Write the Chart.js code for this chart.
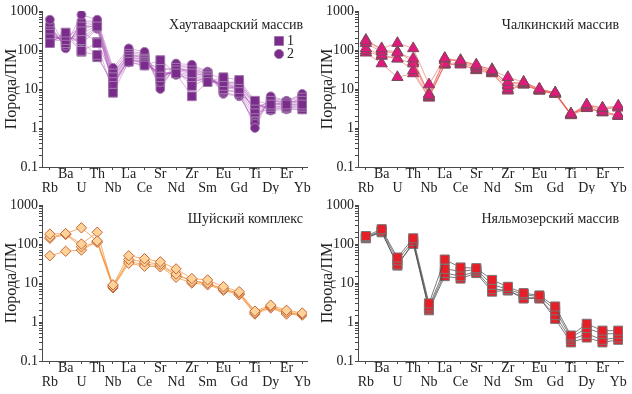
<!DOCTYPE html>
<html><head><meta charset="utf-8">
<script src="https://cdn.jsdelivr.net/npm/chart.js@4.4.1/dist/chart.umd.min.js"></script>
<style>
html,body{margin:0;padding:0;background:#fff;}
#wrap{position:relative;width:632px;height:394px;overflow:hidden;}
canvas{position:absolute;}
</style></head><body>
<div id="wrap">
<canvas id="c1" width="316" height="194" style="left:0;top:0"></canvas>
<canvas id="c2" width="316" height="194" style="left:316px;top:0"></canvas>
<canvas id="c3" width="316" height="200" style="left:0;top:194px"></canvas>
<canvas id="c4" width="316" height="200" style="left:316px;top:194px"></canvas>
</div>
<script>
// ---- categories and tick labels ----
const elements = ['Rb','Ba','U','Th','Nb','La','Ce','Sr','Nd','Zr','Sm','Eu','Gd','Ti','Dy','Er','Yb'];
const yTickValues = [0.1, 1, 10, 100, 1000];
const yTickLabels = ['0.1', '1', '10', '100', '1000'];
const yTitle = 'Порода/ПМ';
const panelTitles = ['Хаутаваарский массив', 'Чалкинский массив', 'Шуйский комплекс', 'Няльмозерский массив'];
const legendLabels = ['1', '2'];

// ---- Хаутаваарский массив: type 1 (squares) ----
const khauType1 = [
  [150, 280, 95, 150, 8, 50, 40, 55, 25, 6.5, 15, 20, 17, 5, 4, 4, 4],
  [200, 230, 90, 75, 12, 60, 45, 35, 30, 12, 18, 15, 14, 4, 3.5, 3.5, 3.5],
  [170, 180, 180, 65, 15, 55, 50, 25, 28, 15, 20, 12, 10, 3, 5, 4.5, 5],
  [260, 150, 300, 160, 20, 70, 55, 30, 35, 25, 22, 10, 12, 2.5, 3, 3.2, 3],
  [300, 200, 400, 400, 25, 80, 60, 20, 33, 30, 25, 18, 8, 3.5, 4.5, 4, 6]
];
// ---- Хаутаваарский массив: type 2 (circles) ----
const khauType2 = [
  [600, 130, 800, 600, 35, 110, 90, 15, 45, 42, 28, 9, 9, 1.0, 6.5, 5, 7.5],
  [450, 110, 550, 550, 30, 95, 80, 10, 40, 38, 26, 8, 7, 1.3, 6, 4.8, 7],
  [380, 120, 480, 500, 25, 85, 75, 12, 38, 35, 24, 7.5, 6.5, 1.5, 5.5, 4.5, 6.5],
  [330, 140, 400, 480, 22, 75, 70, 14, 35, 30, 22, 9.5, 8, 1.8, 5, 4.2, 5.5],
  [280, 160, 330, 450, 18, 70, 65, 18, 32, 28, 20, 11, 9.5, 2.2, 4.5, 4, 5],
  [240, 180, 260, 420, 16, 65, 55, 20, 30, 25, 18, 12, 11, 2.8, 4, 3.8, 4.5],
  [200, 200, 200, 400, 14, 60, 50, 22, 28, 22, 17, 13, 12, 3.5, 3.5, 3.5, 4],
  [170, 220, 170, 370, 13, 55, 45, 25, 26, 20, 16, 14, 13, 4, 3.2, 3.3, 3.5],
  [160, 250, 140, 350, 12, 48, 40, 28, 23, 18, 15, 15, 15, 4.5, 2.8, 3, 3]
];
// ---- Чалкинский массив (triangles) ----
const chalka = [
  [170, 110, 150, 110, 13, 62, 52, 42, 30, 20, 15, 10, 8, 2.3, 4, 3.3, 3.7],
  [150, 90, 85, 60, 7, 60, 50, 38, 28, 15, 14, 9.5, 7.8, 2.2, 3.8, 3.2, 3.3],
  [110, 75, 60, 45, 6.5, 45, 47, 35, 27, 12, 13, 9, 7.5, 2.3, 3.3, 2.6, 2.2],
  [95, 70, 60, 30, 6, 42, 42, 32, 26, 10, 13, 9, 7.5, 2.1, 3.2, 2.5, 2.0],
  [85, 45, 20, 25, 6, 42, 44, 30, 25, 9, 13, 9.5, 7.5, 2.2, 3.3, 2.5, 2.1],
  [180, 100, 90, 50, 7.5, 55, 55, 40, 32, 13, 15, 10, 8, 2.3, 3.5, 3, 3.5]
];
// ---- Шуйский комплекс (diamonds) ----
const shuya = [
  [180, 185, 260, 120, 9, 50, 42, 35, 23, 13, 12, 8, 6, 1.9, 2.7, 2.0, 1.7],
  [150, 180, 100, 200, 8, 40, 35, 30, 17, 11, 10, 7, 5.5, 1.7, 2.5, 1.8, 1.6],
  [140, 175, 85, 110, 7.5, 32, 27, 26, 14, 10, 9, 6.5, 5, 1.6, 2.3, 1.6, 1.5],
  [50, 65, 70, 115, 8.5, 35, 30, 28, 16, 12, 9.5, 7, 5.2, 1.8, 2.4, 1.7, 1.55]
];
// ---- Няльмозерский массив (squares) ----
const nyalm = [
  [160, 240, 45, 140, 3, 40, 25, 24, 12, 8, 5.5, 4.8, 2.5, 0.45, 0.9, 0.6, 0.6],
  [150, 220, 38, 120, 2.5, 23, 20, 22, 9, 7, 5, 4.5, 2, 0.4, 0.7, 0.5, 0.5],
  [145, 200, 30, 100, 2.2, 18, 15, 20, 7, 6.5, 4, 4, 1.5, 0.35, 0.5, 0.35, 0.4],
  [140, 210, 28, 110, 2, 15, 13, 18, 6, 6.5, 4.2, 4.2, 1.2, 0.3, 0.4, 0.3, 0.35]
];

const FONT = '"Liberation Serif", "DejaVu Serif", serif';
const AX = '#4a4a4a';

function ds(values, style, radius, fill, border, line) {
  return {
    data: values.map((v, i) => ({x: i, y: v})),
    pointStyle: style, pointRadius: radius, pointHoverRadius: radius,
    pointBackgroundColor: fill, pointBorderColor: border, pointBorderWidth: 1,
    borderColor: line, borderWidth: 1, tension: 0, fill: false
  };
}

const panelText = {
  id: 'panelText',
  afterDraw(chart, args, o) {
    const ctx = chart.ctx;
    ctx.save();
    ctx.font = '14px ' + FONT;
    ctx.fillStyle = '#222';
    ctx.textAlign = 'right';
    ctx.textBaseline = 'middle';
    ctx.fillText(o.title, 303, 25);
    (o.legend || []).forEach(l => {
      ctx.fillStyle = l.fill; ctx.strokeStyle = l.border; ctx.lineWidth = 1;
      Chart.helpers.drawPoint(ctx, {pointStyle: l.style, radius: l.r, borderWidth: 1, rotation: 0}, l.x, l.y);
      ctx.fillStyle = '#222'; ctx.textAlign = 'left';
      ctx.fillText(l.text, l.x + 8, l.y + 0.5);
    });
    ctx.restore();
  }
};

function makeChart(id, canvasH, datasets, title, legend) {
  new Chart(document.getElementById(id), {
    type: 'line',
    data: {datasets},
    plugins: [panelText],
    options: {
      responsive: false, animation: false, events: [],
      layout: {padding: {top: 11, right: 9, left: 0, bottom: 0}},
      plugins: {legend: {display: false}, tooltip: {enabled: false}, title: {display: false},
        panelText: {title, legend}},
      scales: {
        x: {
          type: 'linear', min: -0.5, max: 16.3,
          afterFit(s) { s.height = canvasH - 167; },
          afterBuildTicks(s) { s.ticks = elements.map((e, i) => ({value: i})); },
          ticks: {autoSkip: false, maxRotation: 0, minRotation: 0, padding: -2, color: '#222',
            font: {family: FONT, size: 14, lineHeight: 0.95},
            callback(v) { const n = elements[v]; return v % 2 === 0 ? ['', n] : [n, '']; }},
          grid: {drawOnChartArea: false, drawTicks: true, tickLength: 3, color: AX},
          border: {color: AX, width: 1}
        },
        y: {
          type: 'logarithmic', min: 0.1, max: 1000,
          afterFit(s) { s.width = 42; },
          ticks: {autoSkip: false, padding: 1, color: '#222', font: {family: FONT, size: 14},
            callback(v) {
              const k = yTickValues.findIndex(t => Math.abs(t - v) / t < 1e-6);
              return k >= 0 ? yTickLabels[k] : '';
            }},
          grid: {drawOnChartArea: false, drawTicks: true, tickLength: 3, color: AX},
          border: {color: AX, width: 1},
          title: {display: true, text: yTitle, color: '#222', font: {family: FONT, size: 16}, padding: {top: 2, bottom: 0}}
        }
      }
    }
  });
}

// Panel 1
const P1fill = '#7a2b8c', P1border = '#a07aaa', P1line = 'rgba(175,85,185,0.45)';
makeChart('c1', 194, [
  ...khauType1.map(v => ds(v, 'rect', 6.2, P1fill, P1border, P1line)),
  ...khauType2.map(v => ds(v, 'circle', 4.4, P1fill, P1border, P1line))
], panelTitles[0], [
  {style: 'rect', r: 6.4, x: 279, y: 41, fill: P1fill, border: P1border, text: legendLabels[0]},
  {style: 'circle', r: 4.6, x: 279, y: 54, fill: P1fill, border: P1border, text: legendLabels[1]}
]);
// Panel 2
makeChart('c2', 194, chalka.map(v => ds(v, 'triangle', 6.5, '#e0197c', '#7a4a5a', 'rgba(235,85,75,0.55)')), panelTitles[1]);
// Panel 3
makeChart('c3', 200, shuya.map(v => ds(v, 'rectRot', 5.2, '#fdd39a', '#c4673a', 'rgba(243,145,55,0.75)')), panelTitles[2]);
// Panel 4
makeChart('c4', 200, nyalm.map(v => ds(v, 'rect', 6.4, '#e61e28', '#777777', 'rgba(70,70,70,0.7)')), panelTitles[3]);
</script>
</body></html>
